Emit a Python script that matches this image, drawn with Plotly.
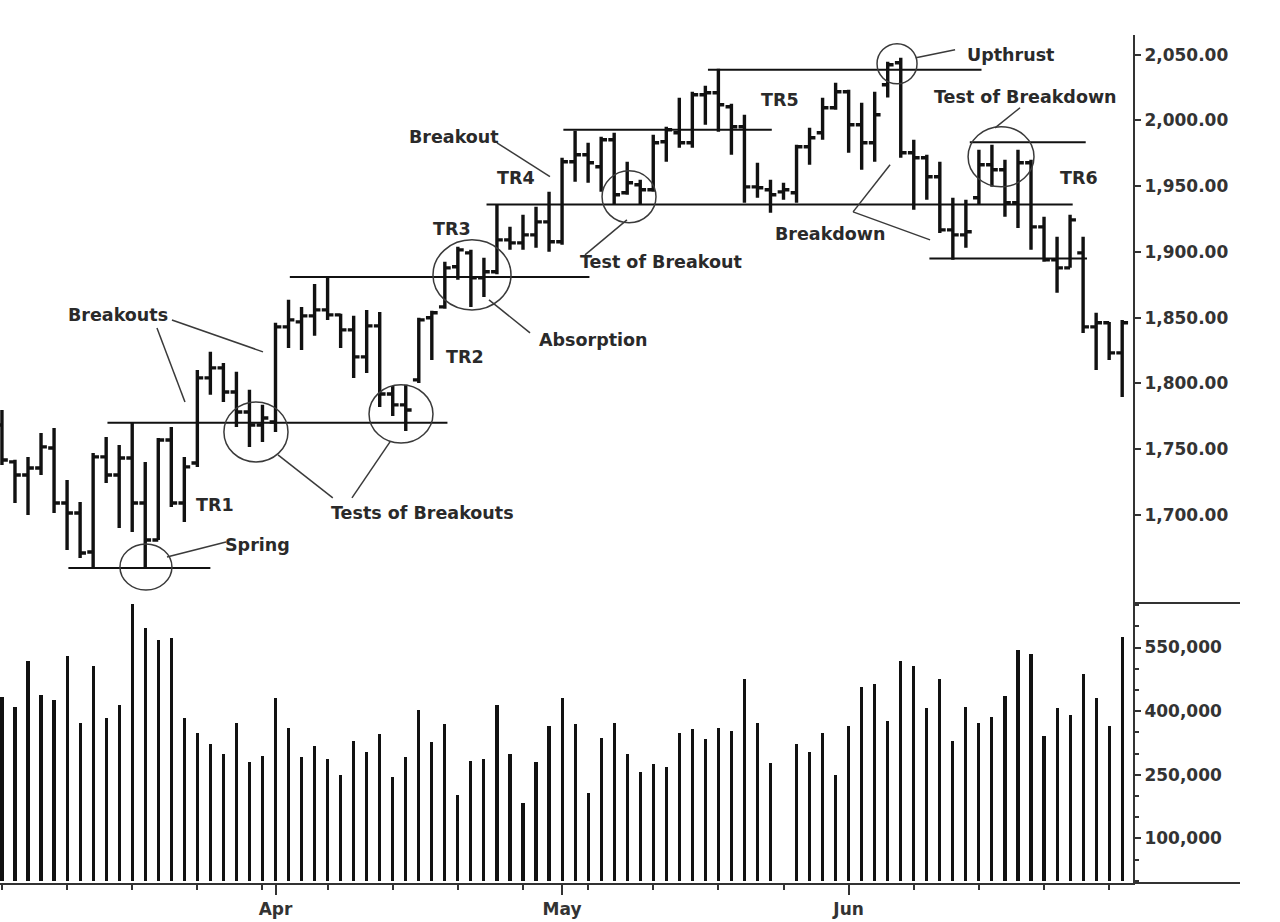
import plotly.graph_objects as go

# ---------------- data ----------------
day_index = list(range(87))          # trading-day slots, Mar 3 .. Jul 1
opens = [1768.4, 1740.3, 1730.4, 1735.7, 1750.9, 1709.1, 1701.5, 1671.8, 1744.1, 1730.4,
         1743.3, 1709.1, 1680.9, 1757.0, 1709.1, 1739.5, 1804.2, 1811.8, 1793.5, 1778.3,
         1768.4, 1770.7, 1843.0, 1846.8, 1851.4, 1855.9, 1852.1, 1840.7, 1820.2, 1843.8,
         1792.0, 1783.7, 1802.7, 1849.9, 1858.2, 1888.7, 1899.3, 1880.3, 1884.9, 1909.2,
         1906.9, 1913.0, 1922.9, 1907.7, 1968.6, 1973.9, 1964.8, 1985.3, 1945.0, 1951.1,
         1947.3, 1983.8, 1990.6, 1983.0, 2019.6, 2021.1, 2010.4, 1995.2, 1949.5, 1947.3,
         1945.7, 1945.0, 1980.0, 1990.6, 2009.7, 2021.8, 1996.7, 1983.0, 2027.2, 2043.9,
         1975.4, 1971.6, 1957.2, 1916.8, 1913.0, 1941.2, 1966.3, 1962.5, 1937.4, 1967.8,
         1919.1, 1894.0, 1887.9, 1899.3, 1843.0, 1846.1, 1823.2]
highs = [1779.8, 1742.0, 1744.1, 1762.3, 1766.1, 1726.6, 1709.8, 1747.1, 1759.3, 1753.2,
         1769.9, 1740.3, 1758.5, 1766.9, 1744.1, 1810.3, 1824.0, 1815.6, 1808.8, 1795.1,
         1783.7, 1846.1, 1863.6, 1858.2, 1875.7, 1880.3, 1852.9, 1851.4, 1855.9, 1854.4,
         1798.1, 1798.9, 1849.9, 1855.2, 1892.5, 1903.9, 1901.6, 1895.5, 1935.9, 1919.1,
         1928.2, 1934.3, 1945.7, 1971.6, 1992.2, 1983.0, 1987.6, 1990.6, 1968.6, 1954.9,
         1989.1, 1995.2, 2017.3, 2021.8, 2026.4, 2039.3, 2012.7, 2004.3, 1967.8, 1954.9,
         1952.6, 1981.5, 1994.4, 2017.3, 2028.7, 2023.4, 2013.5, 2021.8, 2044.7, 2047.7,
         1985.3, 1973.9, 1968.6, 1941.2, 1939.7, 1977.7, 1981.5, 1970.1, 1977.7, 1970.1,
         1926.7, 1911.5, 1928.2, 1911.5, 1853.7, 1846.8, 1848.3]
lows = [1738.0, 1709.1, 1700.0, 1730.4, 1701.5, 1673.3, 1667.2, 1659.6, 1724.3, 1690.0,
        1687.0, 1659.6, 1680.9, 1706.0, 1694.6, 1736.5, 1791.3, 1785.9, 1766.9, 1751.7,
        1755.5, 1763.1, 1827.0, 1825.5, 1836.2, 1848.3, 1827.0, 1804.2, 1808.0, 1782.1,
        1775.3, 1763.9, 1800.4, 1817.9, 1856.7, 1878.8, 1858.2, 1865.8, 1883.0, 1901.6,
        1901.6, 1903.1, 1900.1, 1905.4, 1953.4, 1952.6, 1945.7, 1935.9, 1943.5, 1935.9,
        1945.7, 1968.6, 1979.2, 1979.2, 1996.7, 1991.4, 1973.9, 1937.4, 1941.2, 1929.8,
        1939.7, 1937.4, 1966.3, 1985.3, 2008.1, 1975.4, 1962.5, 1968.6, 2017.5, 1971.6,
        1932.0, 1939.7, 1914.5, 1894.0, 1903.1, 1935.9, 1949.5, 1926.7, 1918.3, 1901.6,
        1892.5, 1868.9, 1887.9, 1838.4, 1810.3, 1817.9, 1789.7]
closes = [1741.8, 1730.4, 1735.7, 1751.7, 1709.1, 1701.5, 1671.0, 1744.1, 1730.4, 1743.3,
          1709.1, 1680.9, 1757.0, 1709.1, 1736.5, 1804.2, 1811.8, 1793.5, 1778.3, 1768.4,
          1773.7, 1843.0, 1848.3, 1851.4, 1855.9, 1852.1, 1840.7, 1820.2, 1843.8, 1792.0,
          1783.7, 1779.8, 1848.3, 1853.7, 1887.9, 1901.6, 1880.3, 1884.9, 1909.2, 1906.9,
          1913.0, 1922.9, 1907.7, 1968.6, 1973.9, 1967.8, 1985.3, 1943.5, 1952.6, 1947.3,
          1983.0, 1992.9, 1983.0, 2019.6, 2021.1, 2012.0, 1995.2, 1949.5, 1948.8, 1943.5,
          1947.3, 1980.0, 1986.8, 2009.7, 2021.8, 1996.7, 1983.0, 2004.3, 2042.4, 1975.4,
          1971.6, 1957.2, 1916.8, 1913.0, 1915.3, 1966.3, 1962.5, 1937.4, 1967.8, 1919.1,
          1894.0, 1887.9, 1924.4, 1843.0, 1846.1, 1823.2, 1846.1]
volumes = [433000, 410000, 518000, 438000, 426000, 530000, 372000, 506000, 384000, 414000,
           652000, 596000, 568000, 572000, 384000, 349000, 323000, 299000, 372000, 280000,
           294000, 431000, 360000, 292000, 318000, 287000, 250000, 330000, 304000, 346000,
           245000, 292000, 403000, 327000, 370000, 203000, 283000, 287000, 414000, 299000,
           184000, 280000, 365000, 431000, 370000, 207000, 337000, 372000, 299000, 257000,
           276000, 268000, 349000, 358000, 334000, 360000, 353000, 476000, 372000, 278000,
           None, 323000, 304000, 349000, 250000, 365000, 457000, 464000, 377000, 518000,
           506000, 407000, 476000, 330000, 410000, 372000, 386000, 436000, 544000, 535000,
           341000, 407000, 391000, 487000, 431000, 365000, 575000]

month_labels = ["Apr", "May", "Jun"]
month_slots = [21, 43, 65]
week_slots = list(range(0, 87, 5))
price_ticks = [1700, 1750, 1800, 1850, 1900, 1950, 2000, 2050]
volume_ticks = [100000, 250000, 400000, 550000]

# ---------------- annotation geometry ----------------
level_lines = [  # (x start slot, x end slot, price)
    (5.1, 16.0, 1659.6), (8.1, 34.2, 1770.0), (22.1, 45.1, 1881.0),
    (37.2, 82.2, 1936.0), (43.1, 59.1, 1993.0), (54.2, 75.2, 2038.6),
    (74.3, 83.2, 1983.5), (71.2, 83.3, 1895.0),
]
circles = [  # (x0, x1, y0, y1)
    (9.06, 13.05, 1642.9, 1677.9), (17.04, 21.96, 1740.3, 1785.9),
    (28.18, 33.09, 1754.7, 1798.9), (33.09, 39.08, 1855.9, 1909.2),
    (46.07, 50.21, 1922.2, 1961.7), (67.18, 70.25, 2027.9, 2058.4),
    (74.17, 79.23, 1949.5, 1995.2),
]
connectors = [  # (x0, y0, x1, y1)
    (11.9, 1842.2, 14.05, 1785.9), (13.05, 1848.3, 20.04, 1824.0),
    (25.4, 1712.9, 21.19, 1745.6), (26.87, 1712.9, 29.79, 1755.5),
    (12.67, 1668.0, 17.2, 1679.4), (37.39, 1863.6, 40.54, 1838.4),
    (38.0, 1983.0, 42.07, 1957.2), (47.98, 1924.4, 44.76, 1897.8),
    (70.17, 2047.7, 73.17, 2053.8), (76.24, 1994.4, 78.16, 2009.7),
    (65.34, 1930.5, 68.18, 1966.3), (65.34, 1930.5, 71.25, 1909.2),
]
labels = [
    ("Breakouts", 8.9, 1852.1), ("TR1", 16.35, 1707.6), ("Spring", 19.58, 1677.1),
    ("Tests of Breakouts", 32.3, 1701.5), ("TR2", 35.55, 1820.2),
    ("Absorption", 45.4, 1833.1), ("TR3", 34.55, 1917.6), ("Breakout", 34.7, 1987.6),
    ("TR4", 39.5, 1956.4), ("Test of Breakout", 50.6, 1892.5), ("TR5", 59.7, 2015.8),
    ("Breakdown", 63.6, 1913.8), ("Upthrust", 77.4, 2050.0),
    ("Test of Breakdown", 78.6, 2018.0), ("TR6", 82.7, 1956.4),
]

FONT = "DejaVu Sans"
INK = "#111111"
TXT = "#2a2a2a"

fig = go.Figure()
fig.add_trace(go.Ohlc(
    x=day_index, open=opens, high=highs, low=lows, close=closes,
    increasing=dict(line=dict(color=INK, width=3.4)),
    decreasing=dict(line=dict(color=INK, width=3.4)),
    tickwidth=0.45, xaxis="x", yaxis="y", showlegend=False, hoverinfo="skip",
))
fig.add_trace(go.Bar(
    x=day_index, y=volumes, width=0.24, marker=dict(color=INK, line=dict(width=0)),
    xaxis="x", yaxis="y2", showlegend=False, hoverinfo="skip",
))

shapes = []
for x0, x1, y in level_lines:
    shapes.append(dict(type="line", xref="x", yref="y", x0=x0, x1=x1, y0=y, y1=y,
                       line=dict(color=INK, width=2)))
for x0, x1, y0, y1 in circles:
    shapes.append(dict(type="circle", xref="x", yref="y", x0=x0, x1=x1, y0=y0, y1=y1,
                       line=dict(color="#3a3a3a", width=1.5)))
for x0, y0, x1, y1 in connectors:
    shapes.append(dict(type="line", xref="x", yref="y", x0=x0, x1=x1, y0=y0, y1=y1,
                       line=dict(color="#3a3a3a", width=1.5)))
PD = 0.3302
XR = 1240 / 1133
shapes.append(dict(type="line", xref="paper", yref="paper", x0=1, x1=XR, y0=PD, y1=PD,
                   line=dict(color="#333333", width=2)))
shapes.append(dict(type="line", xref="paper", yref="paper", x0=1, x1=XR, y0=0, y1=0,
                   line=dict(color="#333333", width=2)))

annotations = [dict(text=t, x=x, y=y, xref="x", yref="y", showarrow=False,
                    font=dict(family=FONT, size=17.5, color=TXT, weight="bold"))
               for t, x, y in labels]

tickfont = dict(family=FONT, size=17, color="#333333", weight="bold")
fig.update_layout(
    width=1280, height=922,
    margin=dict(l=0, r=147, t=35, b=39, autoexpand=False),
    paper_bgcolor="white", plot_bgcolor="white",
    shapes=shapes, annotations=annotations,
    xaxis=dict(
        range=[-0.15, 86.83], anchor="y2", rangeslider=dict(visible=False),
        automargin=False,
        showgrid=False, zeroline=False, showline=True, linecolor="#333333", linewidth=2,
        tickmode="array", tickvals=month_slots, ticktext=month_labels,
        ticks="outside", ticklen=10, tickwidth=2, tickcolor="#333333", tickfont=tickfont,
        minor=dict(tickmode="array", tickvals=week_slots, ticks="outside", ticklen=5,
                   tickwidth=1.5, tickcolor="#333333", showgrid=False),
    ),
    yaxis=dict(
        domain=[PD, 1], range=[1633, 2065], side="right", anchor="x", automargin=False,
        showgrid=False, zeroline=False, showline=True, linecolor="#333333", linewidth=2,
        tickmode="array", tickvals=price_ticks, tickformat=",.2f",
        ticks="outside", ticklen=6, tickwidth=2, tickcolor="#333333", tickfont=tickfont,
    ),
    yaxis2=dict(
        domain=[0, PD], range=[-5000, 655000], side="right", anchor="x", automargin=False,
        showgrid=False, zeroline=False, showline=True, linecolor="#333333", linewidth=2,
        tickmode="array", tickvals=volume_ticks, tickformat=",",
        ticks="outside", ticklen=6, tickwidth=2, tickcolor="#333333", tickfont=tickfont,
        minor=dict(ticks="outside", ticklen=4, dtick=50000, tick0=0, tickwidth=1.5,
                   tickcolor="#333333", showgrid=False),
    ),
    bargap=0,
)

fig.write_html("out.html", config={"displayModeBar": False},
               post_script="document.body.style.margin='0';")
